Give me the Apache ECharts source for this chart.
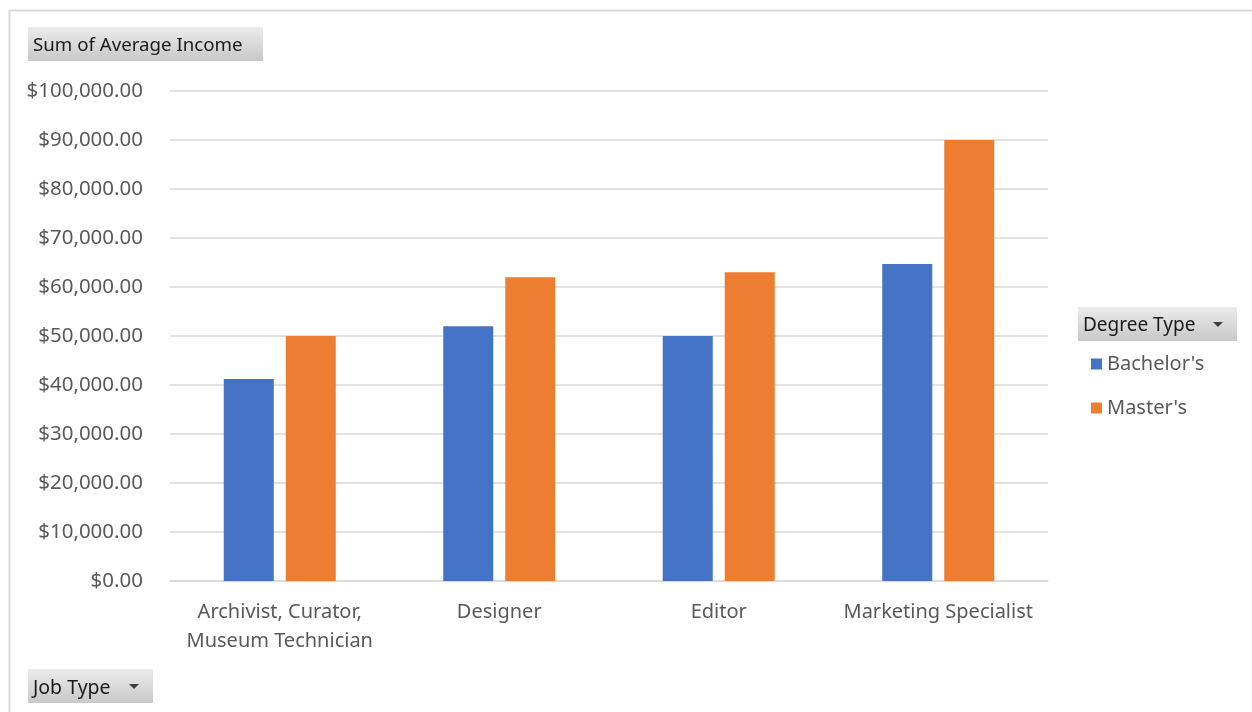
<!DOCTYPE html>
<html>
<head>
<meta charset="utf-8">
<script src="https://cdn.jsdelivr.net/npm/echarts@6/dist/echarts.min.js"></script>
<style>html,body{margin:0;padding:0;background:#fff;}#c{width:1252px;height:712px;}</style>
</head>
<body>
<div id="c"></div>
<script>
const categories = ["Archivist, Curator,\nMuseum Technician", "Designer", "Editor", "Marketing Specialist"];
const seriesNames = ["Bachelor's", "Master's"];
const bachelors = [41200, 52000, 50000, 64700];
const masters = [50000, 62000, 63000, 90000];
const yTicks = { min: 0, max: 100000, interval: 10000 };
const valueAxisTitle = "Sum of Average Income";
const legendTitle = "Degree Type";
const categoryTitle = "Job Type";

const FONT = "Noto Sans";
const chart = echarts.init(document.getElementById('c'), null, { renderer: 'canvas' });

function fmt(v) {
  return '$' + v.toLocaleString('en-US', { minimumFractionDigits: 2, maximumFractionDigits: 2 });
}
const btnFill = new echarts.graphic.LinearGradient(0, 0, 0, 1, [
  { offset: 0, color: '#ececec' }, { offset: 1, color: '#c8c8c8' }
]);
function button(x, y, w, h, label, arrow, fs) {
  const children = [
    { type: 'rect', shape: { x: 0, y: 0, width: w, height: h }, style: { fill: btnFill } },
    { type: 'text', style: { x: 5, y: h / 2 + 2, text: label, fill: '#1a1a1a', font: fs + 'px "' + FONT + '"', verticalAlign: 'middle' } }
  ];
  if (arrow) {
    children.push({ type: 'polygon', shape: { points: [[w - 24, h / 2 - 2], [w - 14, h / 2 - 2], [w - 19, h / 2 + 3]] }, style: { fill: '#404040' } });
  }
  return { type: 'group', x: x, y: y, children: children };
}

chart.setOption({
  animation: false,
  backgroundColor: '#fff',
  color: ['#4472c4', '#ed7d31'],
  grid: { left: 170, right: 204, top: 91, bottom: 131, containLabel: false },
  legend: {
    orient: 'vertical', left: 1086, top: 349,
    icon: 'rect', itemWidth: 11, itemHeight: 11, itemGap: 24,
    textStyle: { color: '#595959', fontSize: 20, fontFamily: FONT },
    data: seriesNames
  },
  xAxis: {
    type: 'category', data: categories,
    axisLine: { lineStyle: { color: '#d9d9d9', width: 1.5 } },
    axisTick: { show: false },
    axisLabel: { color: '#595959', fontSize: 20, fontFamily: FONT, margin: 17, lineHeight: 29, interval: 0 }
  },
  yAxis: {
    type: 'value', min: yTicks.min, max: yTicks.max, interval: yTicks.interval,
    axisLine: { show: false }, axisTick: { show: false },
    splitLine: { lineStyle: { color: '#d9d9d9', width: 1.5 } },
    axisLabel: { color: '#595959', fontSize: 20.5, fontFamily: FONT, margin: 27, formatter: fmt }
  },
  series: [
    { name: seriesNames[0], type: 'bar', data: bachelors, barWidth: 50, barGap: '24%' },
    { name: seriesNames[1], type: 'bar', data: masters, barWidth: 50, barGap: '24%' }
  ],
  graphic: [
    { type: 'rect', shape: { x: 9.5, y: 10.5, width: 1300, height: 800 }, style: { fill: 'none', stroke: '#d9d9d9', lineWidth: 2 }, silent: true },
    button(28, 27, 235, 34, valueAxisTitle, false, 18.7),
    button(1078, 307, 159, 34, legendTitle, true, 19),
    button(28, 669, 125, 34, categoryTitle, true, 19.5)
  ]
});
</script>
</body>
</html>
